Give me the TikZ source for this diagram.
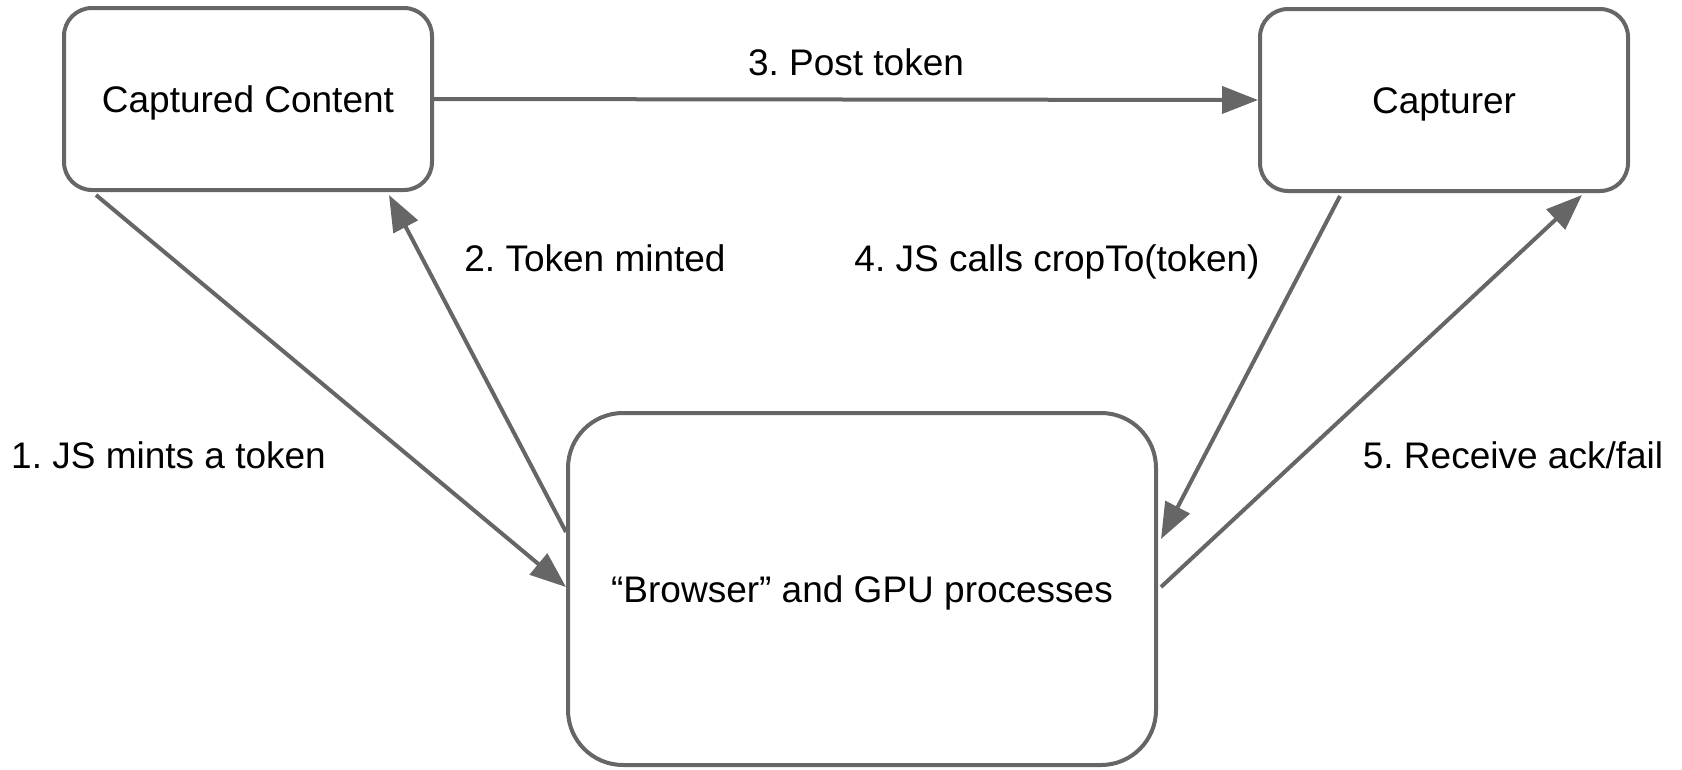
\documentclass[tikz,border=0pt]{standalone}
\usepackage{fontspec}
\setmainfont{Liberation Sans}
\usetikzlibrary{arrows.meta,calc}
\definecolor{edge}{HTML}{666666}
\frenchspacing
\tikzset{
  box/.style={draw=edge, line width=4pt, rounded corners=28pt, inner sep=0pt, fill=white,
    text height=27pt, text depth=0pt, font=\fontsize{37pt}{44pt}\selectfont},
  lbl/.style={inner sep=0pt, text height=27pt, text depth=0pt, font=\fontsize{37pt}{44pt}\selectfont},
  conn/.style={draw=edge, line width=4pt, -{Triangle[length=36pt,width=27pt]}}
}
\begin{document}
\begin{tikzpicture}[x=1pt,y=1pt]
\useasboundingbox (0,0) rectangle (1682,-769);
\node[box, minimum width=368pt, minimum height=182pt] (cc) at (248,-99) {Captured Content};
\node[box, minimum width=368pt, minimum height=182pt] (cap) at (1444,-100) {Capturer};
\node[box, minimum width=588pt, minimum height=352pt, rounded corners=55pt] (br) at (862,-589) {“Browser” and GPU processes};

\draw[conn] ([xshift=34pt,yshift=-3pt]cc.south west) -- ([yshift=2pt]br.west);
\draw[conn] ([yshift=57pt]br.west) -- ([xshift=141pt,yshift=-3pt]cc.south);
\draw[conn] (cc.east) -- (cap.west);
\draw[conn] ([xshift=-104pt,yshift=-3pt]cap.south) -- ([xshift=3pt,yshift=50pt]br.east);
\draw[conn] ([xshift=3pt,yshift=2pt]br.east) -- ([xshift=-48pt,yshift=-2pt]cap.south east);

\node[lbl] (l3) at (856,-62) {3. Post token};
\node[lbl] (l2) at (595,-258) {2. Token minted};
\node[lbl] (l4) at (1057,-258) {4. JS calls cropTo(token)};
\node[lbl, anchor=west] (l1) at (11,-455) {1. JS mints a token};
\node[lbl] (l5) at (1513,-455) {5. Receive ack/fail};
\end{tikzpicture}
\end{document}
